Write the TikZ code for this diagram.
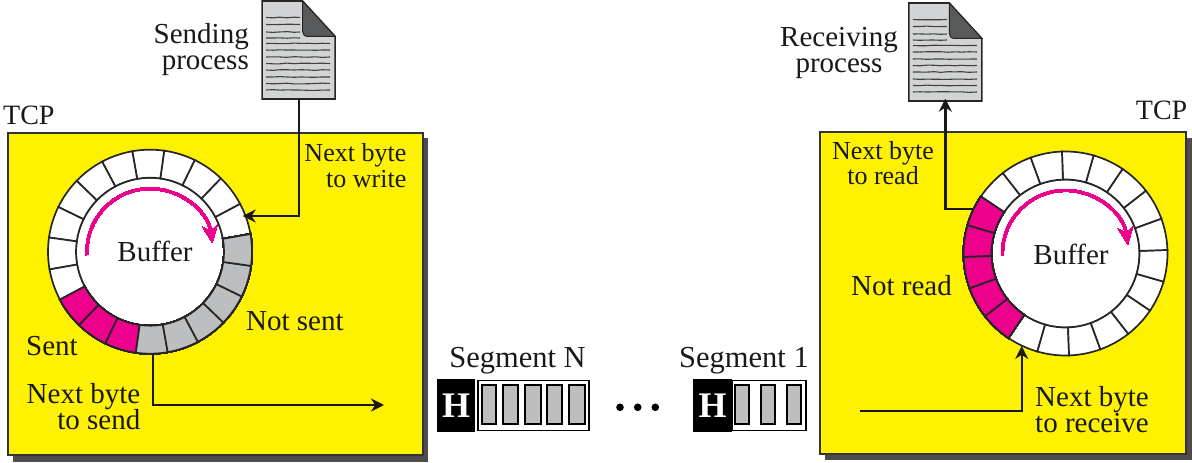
\documentclass[tikz,border=0pt]{standalone}
\usepackage{fontspec}
\setmainfont{Liberation Serif}
\usetikzlibrary{calc,positioning,arrows.meta,decorations.pathmorphing}
\definecolor{tcpyellow}{HTML}{FFF200}
\definecolor{tcppink}{HTML}{EC008C}
\definecolor{tcpgray}{HTML}{BCBEC0}
\definecolor{tcpshadow}{HTML}{4D4D4F}
\definecolor{docgray}{HTML}{D1D3D4}
\definecolor{docdark}{HTML}{58595B}
\newcommand{\bufcell}[3]{%
  \filldraw[line width=1.7pt,draw=black!85,fill=#3] ($(#1)+(#2:102)$) arc[start angle=#2,delta angle=18,radius=102]
    -- ($(#1)+(#2+18:74)$) arc[start angle=#2+18,delta angle=-18,radius=74] -- cycle;}
\newcommand{\procdoc}[1]{%
  \begin{scope}[shift={(#1)}]
    \filldraw[line width=1.6pt,draw=black!85,fill=docgray] (0,0) -- (40.4,0) -- (73,-35.5) -- (73,-98) -- (0,-98) -- cycle;
    \filldraw[line width=1pt,draw=black!85,fill=docdark] (40.4,0) -- (73,-35.5) -- (46,-35.5) .. controls (42,-35.5) and (40.4,-33) .. (40.4,-30) -- cycle;
    \foreach \y in {16.5,23.5,31,37} \draw[docline] (4,-\y) -- (38,-\y);
    \foreach \y in {42.5,49,56,62.5,69,76,82.5,89} \draw[docline] (4,-\y) -- (68,-\y);
  \end{scope}}
\begin{document}
\begin{tikzpicture}[x=1pt,y=1pt]
\tikzset{
    tcpbox/.style={draw=black!80, line width=2pt, fill=tcpyellow},
    lbl/.style={font=\fontsize{29}{26}\selectfont, inner sep=0pt, text=black!90},
    smalllbl/.style={lbl, font=\fontsize{26}{26}\selectfont},
    seglbl/.style={lbl, font=\fontsize{30.5}{30}\selectfont},
    tcplbl/.style={lbl, font=\fontsize{28}{28}\selectfont},
    conn/.style={line width=2.3pt, draw=black!90},
    tipconn/.style={conn, -{Stealth[length=13pt,width=13pt]}},
    pinkarc/.style={line width=2.8pt, draw=tcppink, -{Stealth[length=17pt,width=15pt,inset=5pt]}},
    bufdisk/.style={circle, draw=black!85, line width=1.7pt, fill=white, minimum size=148pt, inner sep=0pt},
    docspot/.style={minimum width=73pt, minimum height=98pt, inner sep=0pt},
    docline/.style={line width=1.1pt, black!75, decorate, decoration={random steps, segment length=7pt, amplitude=0.4pt}},
    hbox/.style={fill=black, text=white, inner sep=0pt, minimum height=52.4pt,
                 font=\fontsize{36}{36}\selectfont\bfseries},
    segbox/.style={draw=black, line width=1.8pt, fill=white, inner sep=0pt, minimum height=50pt},
    segcell/.style={draw=black, line width=2.3pt, fill=tcpgray}
}
\useasboundingbox (0,0) rectangle (1192,463);

% TCP boxes
\fill[tcpshadow] (13,1) rectangle (428,325);
\draw[tcpbox] (8,8) rectangle (423,330);
\fill[tcpshadow] (825,2.5) rectangle (1192,325);
\draw[tcpbox] (819.5,9) rectangle (1186,330.5);

% documents
\node[docspot] (senddoc) at (298.65,413) {};
\node[docspot] (recvdoc) at (945.35,411) {};
\procdoc{262.15,462}
\procdoc{908.85,460}

% sending ring
\node[bufdisk] (diskS) at (150,211.3) {};
\foreach \a in {10,28,...,190} \bufcell{diskS}{\a}{white}
\foreach \a in {208,226,244} \bufcell{diskS}{\a}{tcppink}
\foreach \a in {262,280,...,352} \bufcell{diskS}{\a}{tcpgray}
\draw[pinkarc] ($(diskS)+(183:63)$) arc[start angle=183,end angle=8,radius=63];

% receiving ring
\node[bufdisk] (diskR) at (1065.5,209.5) {};
\foreach \a in {236,254,...,488} \bufcell{diskR}{\a}{white}
\foreach \a in {146,164,182,200,218} \bufcell{diskR}{\a}{tcppink}
\draw[pinkarc] ($(diskR)+(182:63)$) arc[start angle=182,end angle=8,radius=63];

% connectors
\coordinate (writetip) at (242.7,247);
\coordinate (sendcell) at (152.7,108);
\coordinate (sendtip) at (384,58);
\coordinate (readcell) at (972.7,254);
\coordinate (recvstart) at (860,52.3);
\coordinate (recvtip) at (1021.7,117);
\draw[tipconn] (senddoc.south) |- (writetip);
\draw[tipconn] (sendcell) |- (sendtip);
\draw[tipconn, shorten >=-2.5pt] (readcell) -| (recvdoc.south);
\draw[tipconn] (recvstart) -| (recvtip);

% labels
\node[tcplbl, anchor=base west] (tcpS) at (3,338) {TCP};
\node[tcplbl, anchor=base east] (tcpR) at (1187.5,343) {TCP};
\node[lbl, anchor=base east] (sendproc) at (249,419) {Sending};
\node[lbl, anchor=base east] (sendproc2) at (249,393) {process};
\node[lbl, anchor=base] (recvproc) at (839,416) {Receiving};
\node[lbl, anchor=base] (recvproc2) at (839,390.3) {process};
\node[smalllbl, anchor=base east] (nextwrite) at (406.5,301.3) {Next byte};
\node[smalllbl, anchor=base east] (nextwrite2) at (406.5,275.3) {to write};
\node[lbl, anchor=base] (bufS) at (155,201) {Buffer};
\node[lbl, anchor=base west] (notsent) at (246,132) {Not sent};
\node[lbl, anchor=base west] (sent) at (26,107) {Sent};
\node[lbl, anchor=base east] (nextsend) at (140.5,59.3) {Next byte};
\node[lbl, anchor=base east] (nextsend2) at (140.5,33) {to send};
\node[smalllbl, anchor=base] (nextread) at (883,303.7) {Next byte};
\node[smalllbl, anchor=base] (nextread2) at (883,278.7) {to read};
\node[lbl, anchor=base] (bufR) at (1071,198) {Buffer};
\node[lbl, anchor=base west] (notread) at (851,167) {Not read};
\node[lbl, anchor=base west] (nextrecv) at (1035,56) {Next byte};
\node[lbl, anchor=base west] (nextrecv2) at (1035,30.3) {to receive};

% segments
\node[seglbl, anchor=base] (segN) at (517.5,95) {Segment N};
\node[seglbl, anchor=base] (seg1) at (744,95) {Segment 1};
\node[hbox, minimum width=37.7pt] (headN) at (456.2,57.5) {H};
\node[hbox, minimum width=38.4pt] (head1) at (712.5,57.5) {H};
\node[segbox, minimum width=111pt] (bodyN) at (533.8,57.5) {};
\node[segbox, minimum width=74pt] (body1) at (769,57.5) {};
\foreach \x/\w in {482.3/13.4,503.3/15,525/15.7,547.3/15,569.3/15.7}
  \draw[segcell] (\x,38.7) rectangle ++(\w,39.3);
\foreach \x/\w in {735/14.3,760.7/14.3,786.7/14}
  \draw[segcell] (\x,38.7) rectangle ++(\w,39.3);
\foreach \x in {620,637.7,655.3}
  \fill[black] (\x,55.7) circle (3.8);
\end{tikzpicture}
\end{document}
